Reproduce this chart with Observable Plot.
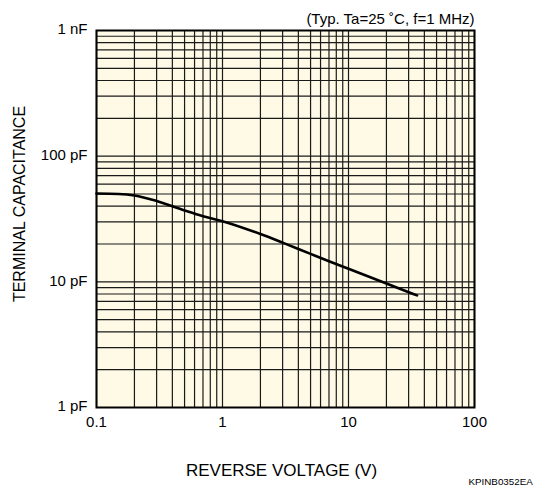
<!DOCTYPE html>
<html>
<head>
<meta charset="utf-8">
<script src="https://cdn.jsdelivr.net/npm/d3@7"></script>
<script src="https://cdn.jsdelivr.net/npm/@observablehq/plot@0.6"></script>
<style>
  html, body { margin: 0; padding: 0; background: #ffffff; }
  #chart svg { display: block; }
  #chart g[aria-label="tick-labels"] text { letter-spacing: 0.5px; }
  #chart g[aria-label="note"] text { letter-spacing: 0.8px; }
</style>
</head>
<body>
<div id="chart"></div>
<script>
// Data
const voltage = [0.1, 0.15, 0.2, 0.3, 0.5, 0.7, 1, 2, 3, 5, 7, 10, 20, 35];
const capacitance = [50.5, 50, 48.6, 44, 37, 33.3, 30.4, 24, 20.5, 16.7, 14.6, 12.7, 9.7, 7.8];

const xTickValues = [0.1, 1, 10, 100];
const xTickLabels = ["0.1", "1", "10", "100"];
const yTickValues = [1, 10, 100, 1000];
const yTickLabels = ["1 pF", "10 pF", "100 pF", "1 nF"];

const xTitle = "REVERSE VOLTAGE (V)";
const yTitle = "TERMINAL CAPACITANCE";
const noteText = "(Typ. Ta=25 ˚C, f=1 MHz)";
const codeText = "KPINB0352EA";

const data = voltage.map((v, i) => ({v, c: capacitance[i]}));
const xTicks = xTickValues.map((v, i) => ({v, label: xTickLabels[i]}));
const yTicks = yTickValues.map((v, i) => ({v, label: yTickLabels[i]}));

// grid values: 1..9 x each decade
const xGrid = [];
[0.1, 1, 10].forEach(d => { for (let k = 1; k <= 9; k++) xGrid.push(d * k); });
xGrid.push(100);
const yGrid = [];
[1, 10, 100].forEach(d => { for (let k = 1; k <= 9; k++) yGrid.push(d * k); });
yGrid.push(1000);

const font = "'Liberation Sans', Arial, sans-serif";

const chart = Plot.plot({
  width: 535,
  height: 489,
  marginLeft: 96,
  marginRight: 61,
  marginTop: 30,
  marginBottom: 82,
  style: {fontFamily: font, fontSize: "13px", background: "#ffffff", color: "#000"},
  x: {type: "log", domain: [0.1, 100], axis: null},
  y: {type: "log", domain: [1, 1000], axis: null},
  marks: [
    Plot.frame({fill: "#fffae6", stroke: null}),
    Plot.gridX(xGrid, {stroke: "#1a1a1a", strokeOpacity: 1, strokeWidth: 1.2}),
    Plot.gridY(yGrid, {stroke: "#1a1a1a", strokeOpacity: 1, strokeWidth: 1.2}),
    Plot.line(data, {x: "v", y: "c", stroke: "#000", strokeWidth: 2.6, curve: "monotone-x"}),
    Plot.frame({stroke: "#000", strokeWidth: 2}),
    Plot.text(xTicks, {x: "v", frameAnchor: "bottom", text: "label", lineAnchor: "middle", dy: 15, fontSize: 15, fill: "#000", ariaLabel: "tick-labels"}),
    Plot.text(yTicks, {y: "v", frameAnchor: "left", text: "label", textAnchor: "end", lineAnchor: "middle", dx: -9, dy: -1, fontSize: 15, fill: "#000", ariaLabel: "tick-labels"}),
    Plot.text([xTitle], {frameAnchor: "bottom", lineAnchor: "middle", dx: -4, dy: 63, fontSize: 17, fill: "#000"}),
    Plot.text([yTitle], {frameAnchor: "left", textAnchor: "middle", lineAnchor: "middle", dx: -77, dy: -15, rotate: -90, fontSize: 16, fill: "#000"}),
    Plot.text([noteText], {frameAnchor: "top-right", textAnchor: "end", lineAnchor: "middle", dy: -11, fontSize: 15, fill: "#000", ariaLabel: "note"}),
    Plot.text([codeText], {frameAnchor: "bottom-right", textAnchor: "start", lineAnchor: "middle", dx: -6, dy: 74, fontSize: 9.8, fill: "#000"})
  ]
});
document.getElementById("chart").appendChild(chart);
</script>
</body>
</html>
